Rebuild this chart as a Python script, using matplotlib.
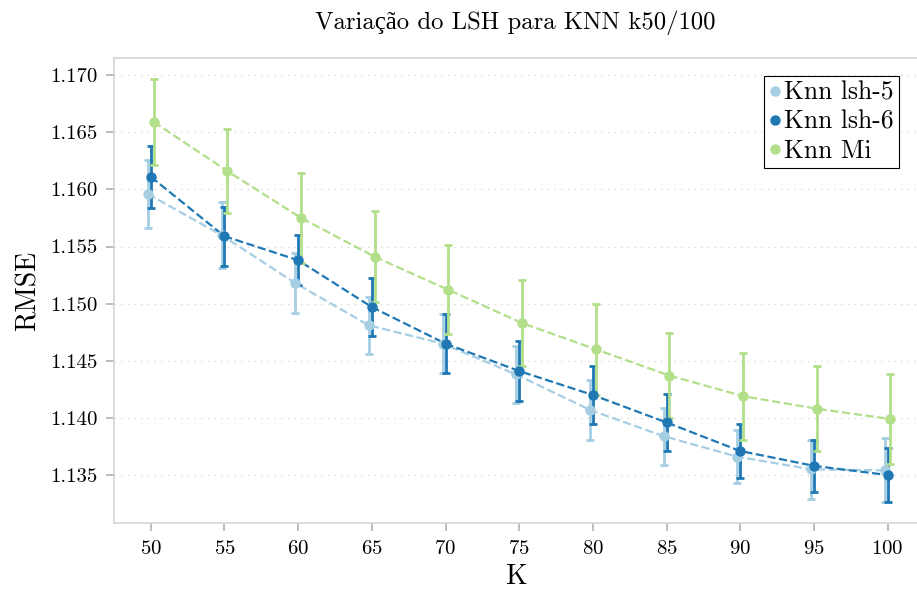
import matplotlib
matplotlib.use("Agg")
import matplotlib.pyplot as plt
from matplotlib.lines import Line2D
import numpy as np

# Valores
k_values = [50, 55, 60, 65, 70, 75, 80, 85, 90, 95, 100]

lsh5_rmse = [1.1596, 1.1560, 1.1518, 1.1481, 1.1465, 1.1438, 1.1407, 1.1384, 1.1366, 1.1355, 1.1354]
lsh5_err = [0.0030, 0.0029, 0.0026, 0.0025, 0.0026, 0.0025, 0.0026, 0.0025, 0.0023, 0.0026, 0.0028]

lsh6_rmse = [1.1611, 1.1559, 1.1538, 1.1497, 1.1465, 1.1441, 1.1420, 1.1396, 1.1371, 1.1358, 1.1350]
lsh6_err = [0.0027, 0.0026, 0.0022, 0.0025, 0.0026, 0.0026, 0.0025, 0.0025, 0.0024, 0.0023, 0.0024]

mi_rmse = [1.1659, 1.1616, 1.1575, 1.1541, 1.1512, 1.1483, 1.1460, 1.1437, 1.1419, 1.1408, 1.1399]
mi_err = [0.0038, 0.0037, 0.0039, 0.0040, 0.0039, 0.0038, 0.0040, 0.0037, 0.0038, 0.0037, 0.0039]

series = [
    ("Knn lsh-5", lsh5_rmse, lsh5_err, "#a6cee3", -0.2),
    ("Knn lsh-6", lsh6_rmse, lsh6_err, "#1f78b4", 0.0),
    ("Knn Mi", mi_rmse, mi_err, "#b2df8a", 0.2),
]

plt.rcParams["font.family"] = ["cmr10", "Liberation Serif"]
plt.rcParams["axes.formatter.use_mathtext"] = True
plt.rcParams["mathtext.fontset"] = "cm"

fig = plt.figure(figsize=(9.17, 5.92), dpi=100)
ax = fig.add_axes([0.1243, 0.1166, 0.8757, 0.7854])

x = np.array(k_values, dtype=float)
handles = []
for label, rmse, err, color, off in series:
    ax.errorbar(x + off, rmse, yerr=err, color=color, fmt="o", markersize=6.5,
                elinewidth=2, capsize=3, capthick=2, zorder=3)
    ax.plot(x + off, rmse, linestyle="--", color=color, linewidth=1.6, zorder=2)
    handles.append(Line2D([], [], marker="o", linestyle="none", color=color,
                          markersize=6.5, label=label))

ax.set_xlim(47.5, 102)
ax.set_ylim(1.1308, 1.1715)
ax.set_xticks(k_values)
ax.set_yticks([1.135, 1.140, 1.145, 1.150, 1.155, 1.160, 1.165, 1.170])
ax.set_yticklabels(["%.3f" % v for v in ax.get_yticks()])

ax.grid(axis="y", linestyle=(0, (1, 5)), color="#cccccc", linewidth=0.8)
ax.set_axisbelow(True)

for side in ["left", "bottom", "top"]:
    ax.spines[side].set_color("#d5d5d5")
    ax.spines[side].set_linewidth(1.2)
ax.spines["right"].set_visible(False)
ax.tick_params(axis="both", direction="out", length=6, width=1.2, color="#b0b0b0",
               labelsize=15, pad=6)
ax.tick_params(axis="x", top=False)

ax.set_xlabel("K", fontsize=20, labelpad=4)
ax.set_ylabel("RMSE", fontsize=20, labelpad=6)
ax.set_title("Variação do LSH para KNN k50/100", fontsize=17.8, pad=21)

leg = ax.legend(handles=handles, loc="upper right", fontsize=18.5, fancybox=False,
                edgecolor="black", framealpha=1, handlelength=0.45, handletextpad=0.15,
                borderpad=0.2, labelspacing=0.2, borderaxespad=0.7)
leg.get_frame().set_linewidth(0.8)

fig.savefig("out.png", dpi=100)
